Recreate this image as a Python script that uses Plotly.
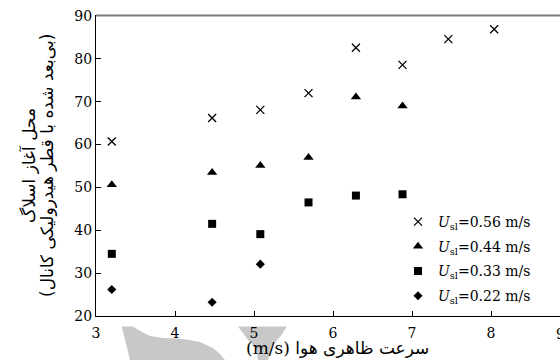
import plotly.graph_objects as go

# Superficial gas velocity (m/s) and dimensionless slug onset location, per liquid velocity
gas_velocity_056 = [3.2, 4.47, 5.08, 5.69, 6.29, 6.88, 7.46, 8.04]
slug_onset_056 = [60.7, 66.2, 68.1, 72.0, 82.6, 78.6, 84.6, 86.9]

gas_velocity_044 = [3.2, 4.47, 5.08, 5.69, 6.29, 6.88]
slug_onset_044 = [50.6, 53.5, 55.1, 57.0, 71.1, 69.0]

gas_velocity_033 = [3.2, 4.47, 5.08, 5.69, 6.29, 6.88]
slug_onset_033 = [34.5, 41.5, 39.1, 46.5, 48.1, 48.4]

gas_velocity_022 = [3.2, 4.47, 5.08]
slug_onset_022 = [26.2, 23.2, 32.1]

series_names = [
    "<i>U</i><sub>sl</sub>=0.56 m/s",
    "<i>U</i><sub>sl</sub>=0.44 m/s",
    "<i>U</i><sub>sl</sub>=0.33 m/s",
    "<i>U</i><sub>sl</sub>=0.22 m/s",
]

x_ticks = [3, 4, 5, 6, 7, 8, 9]
y_ticks = [20, 30, 40, 50, 60, 70, 80, 90]

x_title = "<span style='font-family:DejaVu Serif'>(m/s)</span> سرعت ظاهری هوا"
y_title_lines = ["محل آغاز اسلاگ", "(بی‌بعد شده با قطر هیدرولیکی کانال)"]

W, H = 560, 360
ML, MR, MT, MB = 96, 0, 16, 44
PX_PER_UNIT = 79.0
x_range = [3, 3 + (W - ML - MR) / PX_PER_UNIT]
y_range = [20, 90]

serif = "DejaVu Serif"
persian = "DejaVu Sans"


def to_paper(px, py):
    """Convert page pixels to paper coordinates."""
    return (px - ML) / (W - ML - MR), (H - MB - py) / (H - MT - MB)


def x_to_paper(v):
    return (v - x_range[0]) / (x_range[1] - x_range[0])


def path_from_pixels(points):
    coords = [to_paper(x, y) for x, y in points]
    return "M " + " L ".join(f"{x:.4f},{y:.4f}" for x, y in coords) + " Z"


fig = go.Figure()

styles = [
    dict(symbol="x-thin", size=8, color="black", line=dict(width=1.3, color="black")),
    dict(symbol="triangle-up", size=9, color="black", line=dict(width=0)),
    dict(symbol="square", size=8, color="black", line=dict(width=0)),
    dict(symbol="diamond", size=7, color="black", line=dict(width=0)),
]
series = [
    (gas_velocity_056, slug_onset_056),
    (gas_velocity_044, slug_onset_044),
    (gas_velocity_033, slug_onset_033),
    (gas_velocity_022, slug_onset_022),
]

for i, ((xs, ys), name, st) in enumerate(zip(series, series_names, styles)):
    fig.add_trace(go.Scatter(
        x=xs, y=ys, mode="markers", name=name,
        legendgroup=f"g{i}", marker=st, cliponaxis=False,
    ))

# light grey logo shapes at the foot of the page
logo_paths = [
    [(121.7, 326.5), (133, 326.5), (142, 332), (150, 336), (163, 338), (177, 338.5),
     (190, 340), (200, 342), (213, 348), (220, 354), (225, 360), (130, 360)],
    [(238, 326.5), (287, 326.5), (280, 337), (272, 346), (268, 360), (258, 360),
     (257, 350), (248, 340)],
]
shapes = [
    dict(type="path", xref="paper", yref="paper", path=path_from_pixels(p),
         fillcolor="rgb(200,200,200)", line=dict(width=0), layer="below")
    for p in logo_paths
]
# grey frame line along the top of the plot
top_y = to_paper(0, MT - 0.5)[1]
shapes.append(dict(type="line", xref="paper", yref="paper",
                   x0=0, x1=1, y0=top_y, y1=top_y,
                   line=dict(color="#7a7a7a", width=2), layer="above"))

tx, _ = to_paper(337, 0)
_, ty = to_paper(0, 348)
y1x, _ = to_paper(28, 0)
y2x, _ = to_paper(47, 0)
_, ymid = to_paper(0, 166)

annotations = [
    dict(text=x_title, xref="paper", yref="paper", x=tx, y=ty, showarrow=False,
         xanchor="center", yanchor="middle", font=dict(family=persian, size=17, color="black")),
    dict(text=y_title_lines[0], xref="paper", yref="paper", x=y1x, y=ymid, showarrow=False,
         textangle=-90, xanchor="center", yanchor="middle",
         font=dict(family=persian, size=17, color="black")),
    dict(text=y_title_lines[1], xref="paper", yref="paper", x=y2x, y=ymid, showarrow=False,
         textangle=-90, xanchor="center", yanchor="middle",
         font=dict(family=persian, size=17, color="black")),
    # last x tick label sits just past the right edge of the page
    dict(text=str(x_ticks[-1]), xref="paper", yref="paper", x=x_to_paper(x_ticks[-1]), y=0,
         yshift=-8, xshift=-10, showarrow=False, xanchor="center", yanchor="top",
         font=dict(family=serif, size=14, color="black")),
]

axis_common = dict(
    showline=True, linecolor="black", linewidth=1,
    ticks="inside", ticklen=5, tickcolor="black", tickwidth=1,
    showgrid=False, zeroline=False,
    tickfont=dict(family=serif, size=14, color="black"),
)

fig.update_layout(
    width=W, height=H,
    margin=dict(l=ML, r=MR, t=MT, b=MB),
    paper_bgcolor="white", plot_bgcolor="rgba(0,0,0,0)",
    xaxis=dict(range=x_range, tickvals=x_ticks, ticklabelstandoff=4, mirror=True,
               **axis_common),
    yaxis=dict(range=y_range, tickvals=y_ticks, mirror=False, **axis_common),
    showlegend=True,
    legend=dict(
        x=to_paper(398, 0)[0], xanchor="left",
        y=to_paper(0, 312)[1], yanchor="bottom",
        bgcolor="rgba(0,0,0,0)", borderwidth=0,
        font=dict(family=serif, size=14, color="black"),
        itemwidth=30, tracegroupgap=3.5,
    ),
    shapes=shapes,
    annotations=annotations,
)

fig.write_html("out.html")
